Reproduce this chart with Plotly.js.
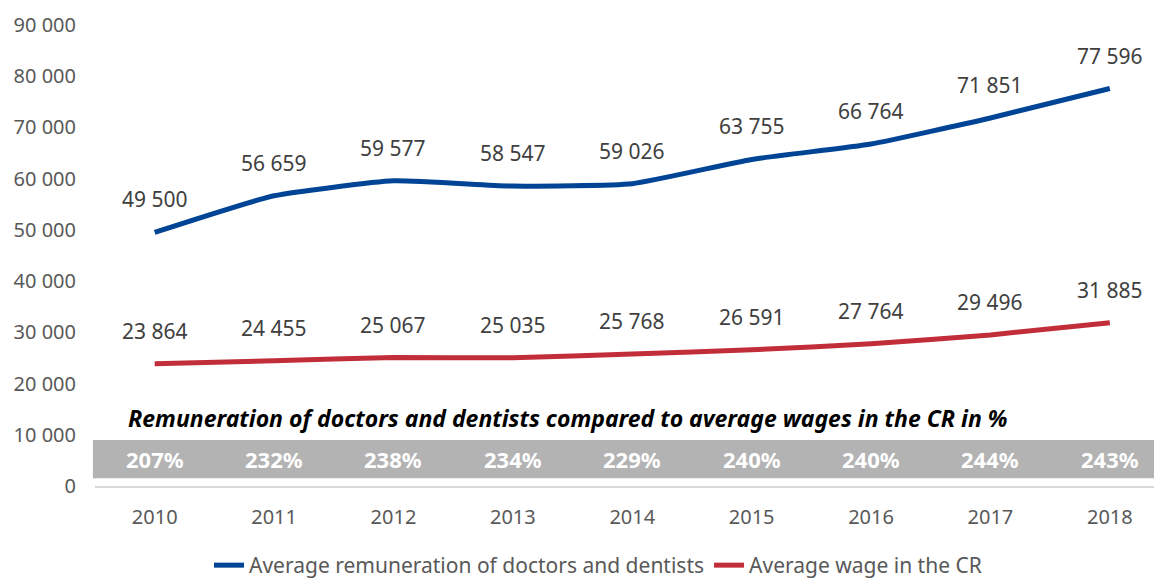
<!DOCTYPE html>
<html>
<head>
<meta charset="utf-8">
<script src="https://cdn.plot.ly/plotly-3.0.1.min.js"></script>
<style>html,body{margin:0;padding:0;background:#fff;}#chart{width:1154px;height:581px;}</style>
</head>
<body>
<div id="chart"></div>
<script>
const years = ['2010','2011','2012','2013','2014','2015','2016','2017','2018'];
const doctors = [49500, 56659, 59577, 58547, 59026, 63755, 66764, 71851, 77596];
const avgWage = [23864, 24455, 25067, 25035, 25768, 26591, 27764, 29496, 31885];
const ratioPct = [207, 232, 238, 234, 229, 240, 240, 244, 243];
const seriesNames = ['Average remuneration of doctors and dentists', 'Average wage in the CR'];
const bandTitle = 'Remuneration of doctors and dentists compared to average wages in the CR in %';

const FONT = 'Noto Sans, Open Sans, sans-serif';
const fmt = v => String(v).replace(/\B(?=(\d{3})+(?!\d))/g, ' ');

const traces = [
  {x: years, y: doctors, name: seriesNames[0], type: 'scatter', mode: 'lines',
   line: {color: '#004595', width: 5, shape: 'spline', smoothing: 0.45}},
  {x: years, y: avgWage, name: seriesNames[1], type: 'scatter', mode: 'lines',
   line: {color: '#c22d3a', width: 5, shape: 'spline', smoothing: 0.45}}
];

const annotations = [];
[doctors, avgWage].forEach(arr => arr.forEach((v, i) => annotations.push({
  x: i, y: v, xref: 'x', yref: 'y', text: fmt(v), showarrow: false, yshift: 33,
  font: {family: FONT, size: 21, color: '#404040'}
})));
ratioPct.forEach((p, i) => annotations.push({
  x: i, y: 5250, xref: 'x', yref: 'y', text: '<b>' + p + '%</b>', showarrow: false,
  font: {family: FONT, size: 22, color: '#ffffff'}
}));
annotations.push({
  x: 0.446, xref: 'paper', y: 13300, yref: 'y', text: '<b><i>' + bandTitle + '</i></b>', showarrow: false,
  font: {family: FONT, size: 23, color: '#000000'}
});

const layout = {
  width: 1154, height: 581,
  margin: {l: 95, r: 0, t: 25, b: 95, autoexpand: false},
  paper_bgcolor: '#ffffff', plot_bgcolor: '#ffffff',
  separators: '. ',
  font: {family: FONT, size: 21, color: '#595959'},
  showlegend: true,
  legend: {orientation: 'h', x: 0.475, xanchor: 'center', y: -0.128, yanchor: 'top',
           font: {family: FONT, size: 21, color: '#595959'}, traceorder: 'normal'},
  xaxis: {type: 'category', range: [-0.5, 8.37], showgrid: false, zeroline: false,
          showline: true, linecolor: '#d9d9d9', linewidth: 2, ticks: '',
          tickfont: {family: FONT, size: 20, color: '#595959'}, ticklabelstandoff: 12},
  yaxis: {range: [0, 90000], dtick: 10000, tickformat: ',d', showgrid: false, zeroline: false,
          showline: false, ticks: '', tickfont: {family: FONT, size: 20, color: '#595959'},
          ticklabelstandoff: 18},
  shapes: [{type: 'rect', xref: 'paper', yref: 'y', x0: -0.002, x1: 1, y0: 1500, y1: 9000,
            fillcolor: '#b3b3b3', line: {width: 0}, layer: 'below'}],
  annotations: annotations
};

Plotly.newPlot('chart', traces, layout, {displayModeBar: false, staticPlot: true});
</script>
</body>
</html>
